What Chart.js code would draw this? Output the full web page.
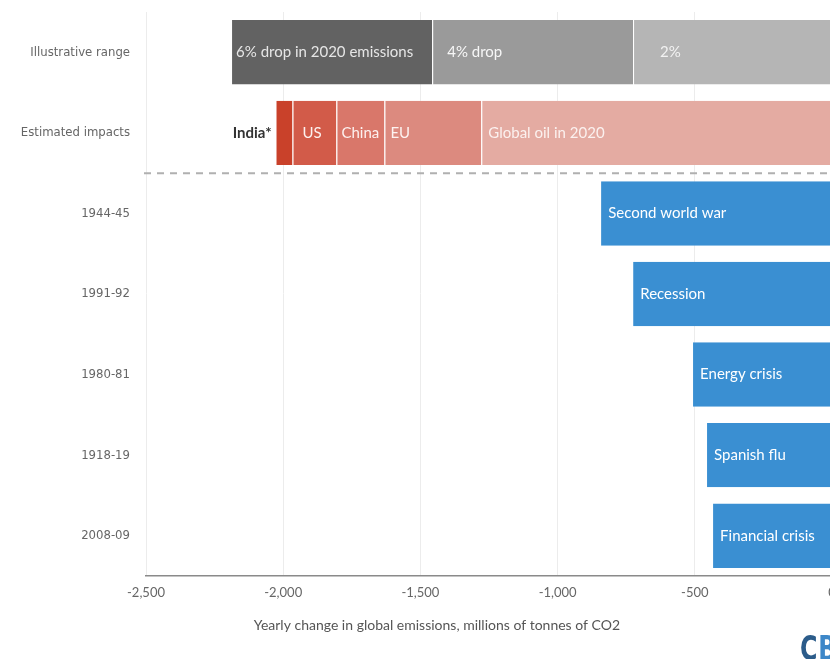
<!DOCTYPE html>
<html>
<head>
<meta charset="utf-8">
<script src="https://cdn.jsdelivr.net/npm/chart.js@4"></script>
<style>
  html, body { margin: 0; padding: 0; background: #fff; overflow: hidden; }
  #wrap { width: 870px; height: 659px; }
</style>
</head>
<body>
<div id="wrap"><canvas id="c" width="870" height="659"></canvas></div>
<script>
// ---- data ----
const categories = ["Illustrative range", "Estimated impacts", "1944-45", "1991-92", "1980-81", "1918-19", "2008-09"];
const xTicks = [-2500, -2000, -1500, -1000, -500, 0];

const drop2 = [-725, null, null, null, null, null, null];
const drop4 = [-732, null, null, null, null, null, null];
const drop6 = [-733, null, null, null, null, null, null];

const globalOil = [null, -1278, null, null, null, null, null];
const eu        = [null, -353, null, null, null, null, null];
const china     = [null, -175, null, null, null, null, null];
const us        = [null, -160, null, null, null, null, null];
const india     = [null, -62, null, null, null, null, null];

const historical = [null, null, -845, -728, -510, -459, -437];

const lbl2 = ["2%", "", "", "", "", "", ""];
const lbl4 = ["4% drop", "", "", "", "", "", ""];
const lbl6 = ["6% drop in 2020 emissions", "", "", "", "", "", ""];
const lblOil = ["", "Global oil in 2020", "", "", "", "", ""];
const lblEU = ["", "EU", "", "", "", "", ""];
const lblChina = ["", "China", "", "", "", "", ""];
const lblUS = ["", "US", "", "", "", "", ""];
const lblIndia = ["", "India*", "", "", "", "", ""];
const lblHist = ["", "", "Second world war", "Recession", "Energy crisis", "Spanish flu", "Financial crisis"];

const axisTitle = "Yearly change in global emissions, millions of tonnes of CO2";

// ---- chart ----
const seg = (data, color, labels, pad, textColor, outside) => ({
  data, backgroundColor: color, labels, pad, textColor, outside: !!outside,
  borderColor: '#ffffff', borderWidth: {left: 1, right: 0, top: 0, bottom: 0}, borderSkipped: false,
  stack: 's'
});

const datasets = [
  seg(drop2, '#b5b5b5', lbl2, 27, '#f2f2f2'),
  seg(drop4, '#9a9a9a', lbl4, 15, '#f7f7f7'),
  seg(drop6, '#626262', lbl6, 5, '#e6e6e6'),
  seg(globalOil, '#e4aba2', lblOil, 7, '#fbf1ef'),
  seg(eu, '#dc8a7f', lblEU, 6, '#fdf3f1'),
  seg(china, '#d9776a', lblChina, 5, '#fdf1ef'),
  seg(us, '#d25b49', lblUS, 10, '#fdf1ef'),
  seg(india, '#c9412a', lblIndia, 4, '#333333', true),
  seg(historical, '#3a8fd2', lblHist, 8, '#ffffff')
];

const labelPlugin = {
  id: 'barLabels',
  afterDatasetsDraw(chart) {
    const ctx = chart.ctx;
    ctx.save();
    ctx.textBaseline = 'middle';
    chart.data.datasets.forEach((ds, i) => {
      const meta = chart.getDatasetMeta(i);
      meta.data.forEach((el, j) => {
        const t = ds.labels[j];
        if (!t || ds.data[j] == null) return;
        const left = Math.min(el.x, el.base);
        if (ds.outside) {
          ctx.font = 'bold 15px Lato, "Open Sans", sans-serif';
          ctx.textAlign = 'right';
          ctx.fillStyle = ds.textColor;
          ctx.fillText(t, left - ds.pad, el.y);
        } else {
          ctx.font = '15px Lato, "Open Sans", sans-serif';
          ctx.textAlign = 'left';
          ctx.fillStyle = ds.textColor;
          ctx.fillText(t, left + ds.pad, el.y);
        }
      });
    });
    ctx.restore();
  }
};

const extrasPlugin = {
  id: 'extras',
  beforeDatasetsDraw(chart) {
    const ctx = chart.ctx;
    const ys = chart.scales.y;
    const y = (ys.getPixelForValue(1) + ys.getPixelForValue(2)) / 2;
    ctx.save();
    ctx.strokeStyle = '#b0b0b0';
    ctx.lineWidth = 2;
    ctx.setLineDash([7, 6]);
    ctx.beginPath();
    ctx.moveTo(chart.chartArea.left - 2, y);
    ctx.lineTo(chart.width, y);
    ctx.stroke();
    ctx.restore();
  },
  afterDraw(chart) {
    const ctx = chart.ctx;
    const xs = chart.scales.x;
    ctx.save();
    ctx.font = '14px Lato, "Open Sans", sans-serif';
    ctx.fillStyle = '#555555';
    ctx.textAlign = 'center';
    ctx.textBaseline = 'middle';
    ctx.fillText(axisTitle, xs.getPixelForValue(-1440), 625);
    // logo (condensed bold)
    ctx.translate(800, 660);
    ctx.scale(0.72, 1);
    ctx.textAlign = 'left';
    ctx.textBaseline = 'alphabetic';
    ctx.font = 'bold 33px "DejaVu Sans", sans-serif';
    ctx.fillStyle = '#2c5c8a';
    ctx.fillText('C', 0, 0);
    const w = ctx.measureText('C').width;
    ctx.fillStyle = '#3d87c8';
    ctx.fillText('B', w + 1, 0);
    ctx.restore();
  }
};

new Chart(document.getElementById('c'), {
  type: 'bar',
  data: { labels: categories, datasets },
  plugins: [labelPlugin, extrasPlugin],
  options: {
    indexAxis: 'y',
    responsive: false,
    animation: false,
    layout: { padding: { top: 12, right: 38, left: 0, bottom: 0 } },
    plugins: { legend: { display: false }, tooltip: { enabled: false } },
    datasets: { bar: { categoryPercentage: 1, barPercentage: 0.8 } },
    scales: {
      x: {
        stacked: true,
        min: -2500, max: 0,
        afterBuildTicks(scale) { scale.ticks = xTicks.map(v => ({ value: v })); },
        afterFit(scale) { scale.height = 83; },
        grid: { color: '#ececec', drawTicks: false },
        border: { display: true, color: '#8a8a8a', width: 1.5 },
        ticks: {
          padding: 9,
          color: '#666666',
          font: { family: 'Lato, "Open Sans", sans-serif', size: 13 },
          callback: v => v.toLocaleString('en-US')
        }
      },
      y: {
        stacked: true,
        afterFit(scale) { scale.width = 146; scale.paddingTop = 0; scale.paddingBottom = 0; },
        grid: { display: false, drawTicks: false },
        border: { display: false },
        ticks: {
          padding: 16,
          color: '#666666',
          font: { family: '"Liberation Sans Narrow", "DejaVu Sans Condensed", sans-serif', size: 13 }
        }
      }
    }
  }
});
</script>
</body>
</html>
